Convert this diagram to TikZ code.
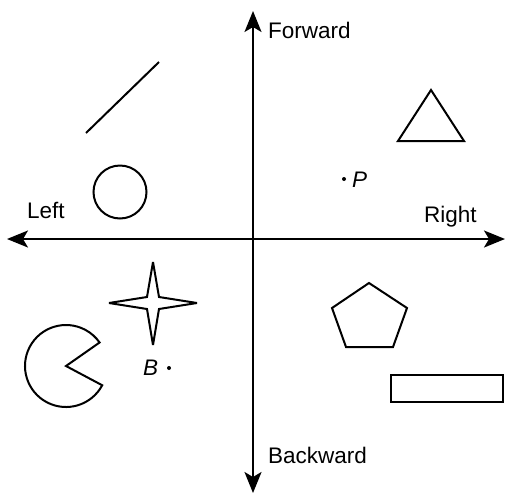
\documentclass[tikz,border=0pt]{standalone}
\usepackage{fontspec}
\setmainfont{Liberation Sans}
\usetikzlibrary{arrows.meta}
\begin{document}
\begin{tikzpicture}[x=1pt,y=-1pt,
  axis/.style={line width=2pt,-{Stealth[length=21pt,width=17pt,inset=5pt]}},
  figline/.style={line width=2pt,line join=miter},
  lbl/.style={font=\fontsize{22.5}{26}\selectfont,inner sep=0pt,anchor=base west},
  ilbl/.style={font=\fontsize{22.5}{26}\selectfont\itshape,inner sep=0pt,anchor=base west}]
\useasboundingbox (0,0) rectangle (505,493);
% axes
\coordinate (o) at (253,239);
\coordinate (top) at (253,11);
\coordinate (bot) at (253,493);
\coordinate (lft) at (7,239);
\coordinate (rgt) at (505,239);
\draw[axis] (o) -- (top);
\draw[axis] (o) -- (bot);
\draw[axis] (o) -- (lft);
\draw[axis] (o) -- (rgt);
% labels
\node[lbl] (fw) at (268,38) {Forward};
\node[lbl] (bw) at (268,463) {Backward};
\node[lbl] (lf) at (27,218) {Left};
\node[lbl] (rt) at (424,222) {Right};
% points
\fill (344,179) circle (2pt);
\node[ilbl] (p) at (352,187) {P};
\fill (169,368) circle (2pt);
\node[ilbl] (b) at (143,375) {B};
% line
\draw[figline] (86,133) -- (159,62);
% circle
\draw[figline] (120,192) circle (26.5);
% triangle
\draw[figline] (431,90) -- (398,141) -- (464,141) -- cycle;
% pentagon
\draw[figline] (369,283) -- (407,308) -- (393,347) -- (346,347) -- (332,308) -- cycle;
% rectangle
\draw[figline] (391,375) rectangle (503,402);
% star
\draw[figline,miter limit=4] (153,262) -- (159,297) -- (197,303) -- (159,309) -- (153,345)
  -- (147,309) -- (109,303) -- (147,297) -- cycle;
% pacman
\draw[figline] (66,366) -- ++(28:41) arc[start angle=28,end angle=325,radius=41] -- cycle;
\end{tikzpicture}
\end{document}
